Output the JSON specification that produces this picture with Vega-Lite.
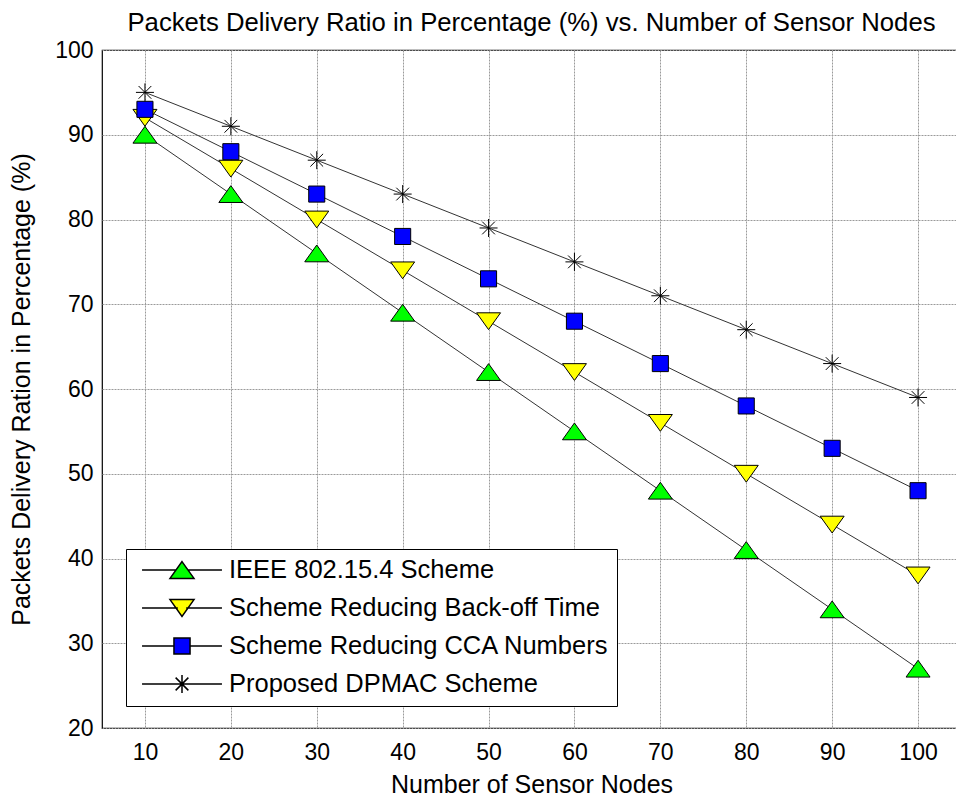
{
  "$schema": "https://vega.github.io/schema/vega-lite/v6.json",
  "autosize": "none",
  "width": 859,
  "height": 678,
  "padding": {"left": 102, "top": 50, "right": 0, "bottom": 70},
  "background": "white",
  "config": {
    "font": "Liberation Sans",
    "view": {"stroke": "black", "strokeWidth": 1.2},
    "axis": {"labelFont": "Liberation Sans", "titleFont": "Liberation Sans", "labelColor": "black", "titleColor": "black", "titleFontWeight": "normal", "domain": false, "ticks": false, "gridColor": "#9a9a9a", "gridDash": [2, 1], "gridWidth": 1}
  },
  "title": {"text": "Packets Delivery Ratio in Percentage (%) vs. Number of Sensor Nodes", "font": "Liberation Sans", "fontSize": 25.7, "fontWeight": "normal", "color": "black", "frame": "group", "anchor": "middle", "offset": 2},
  "data": {"values": [
    {"nodes": 10, "pdr": 90, "series": "IEEE 802.15.4 Scheme"},
    {"nodes": 20, "pdr": 83, "series": "IEEE 802.15.4 Scheme"},
    {"nodes": 30, "pdr": 76, "series": "IEEE 802.15.4 Scheme"},
    {"nodes": 40, "pdr": 69, "series": "IEEE 802.15.4 Scheme"},
    {"nodes": 50, "pdr": 62, "series": "IEEE 802.15.4 Scheme"},
    {"nodes": 60, "pdr": 55, "series": "IEEE 802.15.4 Scheme"},
    {"nodes": 70, "pdr": 48, "series": "IEEE 802.15.4 Scheme"},
    {"nodes": 80, "pdr": 41, "series": "IEEE 802.15.4 Scheme"},
    {"nodes": 90, "pdr": 34, "series": "IEEE 802.15.4 Scheme"},
    {"nodes": 100, "pdr": 27, "series": "IEEE 802.15.4 Scheme"},
    {"nodes": 10, "pdr": 92, "series": "Scheme Reducing Back-off Time"},
    {"nodes": 20, "pdr": 86, "series": "Scheme Reducing Back-off Time"},
    {"nodes": 30, "pdr": 80, "series": "Scheme Reducing Back-off Time"},
    {"nodes": 40, "pdr": 74, "series": "Scheme Reducing Back-off Time"},
    {"nodes": 50, "pdr": 68, "series": "Scheme Reducing Back-off Time"},
    {"nodes": 60, "pdr": 62, "series": "Scheme Reducing Back-off Time"},
    {"nodes": 70, "pdr": 56, "series": "Scheme Reducing Back-off Time"},
    {"nodes": 80, "pdr": 50, "series": "Scheme Reducing Back-off Time"},
    {"nodes": 90, "pdr": 44, "series": "Scheme Reducing Back-off Time"},
    {"nodes": 100, "pdr": 38, "series": "Scheme Reducing Back-off Time"},
    {"nodes": 10, "pdr": 93, "series": "Scheme Reducing CCA Numbers"},
    {"nodes": 20, "pdr": 88, "series": "Scheme Reducing CCA Numbers"},
    {"nodes": 30, "pdr": 83, "series": "Scheme Reducing CCA Numbers"},
    {"nodes": 40, "pdr": 78, "series": "Scheme Reducing CCA Numbers"},
    {"nodes": 50, "pdr": 73, "series": "Scheme Reducing CCA Numbers"},
    {"nodes": 60, "pdr": 68, "series": "Scheme Reducing CCA Numbers"},
    {"nodes": 70, "pdr": 63, "series": "Scheme Reducing CCA Numbers"},
    {"nodes": 80, "pdr": 58, "series": "Scheme Reducing CCA Numbers"},
    {"nodes": 90, "pdr": 53, "series": "Scheme Reducing CCA Numbers"},
    {"nodes": 100, "pdr": 48, "series": "Scheme Reducing CCA Numbers"},
    {"nodes": 10, "pdr": 95, "series": "Proposed DPMAC Scheme"},
    {"nodes": 20, "pdr": 91, "series": "Proposed DPMAC Scheme"},
    {"nodes": 30, "pdr": 87, "series": "Proposed DPMAC Scheme"},
    {"nodes": 40, "pdr": 83, "series": "Proposed DPMAC Scheme"},
    {"nodes": 50, "pdr": 79, "series": "Proposed DPMAC Scheme"},
    {"nodes": 60, "pdr": 75, "series": "Proposed DPMAC Scheme"},
    {"nodes": 70, "pdr": 71, "series": "Proposed DPMAC Scheme"},
    {"nodes": 80, "pdr": 67, "series": "Proposed DPMAC Scheme"},
    {"nodes": 90, "pdr": 63, "series": "Proposed DPMAC Scheme"},
    {"nodes": 100, "pdr": 59, "series": "Proposed DPMAC Scheme"}
  ]},
  "encoding": {
    "x": {"field": "nodes", "type": "quantitative", "scale": {"domain": [5, 105], "nice": false, "zero": false},
      "axis": {"values": [10, 20, 30, 40, 50, 60, 70, 80, 90, 100], "title": "Number of Sensor Nodes", "labelFontSize": 23, "titleFontSize": 25, "labelPadding": 13, "titlePadding": 8, "labelFlush": false}},
    "y": {"field": "pdr", "type": "quantitative", "scale": {"domain": [20, 100], "nice": false, "zero": false},
      "axis": {"values": [20, 30, 40, 50, 60, 70, 80, 90, 100], "title": "Packets Delivery Ration in Percentage (%)", "labelFontSize": 23, "titleFontSize": 25, "labelPadding": 9, "titlePadding": 20, "labelFlush": false}}
  },
  "resolve": {"scale": {"shape": "independent", "fill": "independent"}, "legend": {"shape": "independent", "fill": "independent"}},
  "layer": [
    {
      "mark": {"type": "line", "stroke": "#333333", "strokeWidth": 1},
      "encoding": {"detail": {"field": "series", "type": "nominal"}}
    },
    {
      "mark": {"type": "point", "filled": true, "stroke": "black", "strokeWidth": 1, "opacity": 1, "size": 576},
      "encoding": {
        "shape": {"field": "series", "type": "nominal", "legend": null,
          "scale": {"domain": ["IEEE 802.15.4 Scheme", "Scheme Reducing Back-off Time", "Scheme Reducing CCA Numbers", "Proposed DPMAC Scheme"],
            "range": ["M0,-0.7L1,0.7L-1,0.7Z", "M-1,-0.7L1,-0.7L0,0.7Z", "M-0.67,-0.67L0.67,-0.67L0.67,0.67L-0.67,0.67Z", "M-0.75,0L0.75,0M0,-0.75L0,0.75M-0.53,-0.53L0.53,0.53M-0.53,0.53L0.53,-0.53"]}},
        "fill": {"field": "series", "type": "nominal", "legend": null,
          "scale": {"domain": ["IEEE 802.15.4 Scheme", "Scheme Reducing Back-off Time", "Scheme Reducing CCA Numbers", "Proposed DPMAC Scheme"],
            "range": ["#00ff00", "#ffff00", "#0000ff", "transparent"]}}
      }
    },
    {
      "transform": [{"filter": "datum.nodes < 0"}],
      "mark": {"type": "point", "filled": true, "stroke": "black", "strokeWidth": 1, "opacity": 1, "size": 576},
      "encoding": {
        "shape": {"field": "series", "type": "nominal",
          "scale": {"domain": ["IEEE 802.15.4 Scheme", "Scheme Reducing Back-off Time", "Scheme Reducing CCA Numbers", "Proposed DPMAC Scheme"],
            "range": ["M0,-0.7L1,0.7L-1,0.7ZM-3.33,0L-0.5,0M0.5,0L3.33,0", "M-1,-0.7L1,-0.7L0,0.7ZM-3.33,0L-0.35,0M0.35,0L3.33,0", "M-0.67,-0.67L0.67,-0.67L0.67,0.67L-0.67,0.67ZM-3.33,0L-0.67,0M0.67,0L3.33,0", "M-0.75,0L0.75,0M0,-0.75L0,0.75M-0.53,-0.53L0.53,0.53M-0.53,0.53L0.53,-0.53M-3.33,0L-0.75,0M0.75,0L3.33,0"]},
          "legend": {
            "title": null, "orient": "none", "legendX": 24, "legendY": 499,
            "padding": 8, "fillColor": "white", "strokeColor": "black",
            "labelFontSize": 25.5, "labelFont": "Liberation Sans", "labelColor": "black", "labelLimit": 600,
            "symbolSize": 576, "symbolOffset": 35, "labelOffset": 34, "rowPadding": 11,
            "encode": {"symbols": {"stroke": {"value": "black"}, "strokeWidth": {"value": 1}}}
          }},
        "fill": {"field": "series", "type": "nominal",
          "scale": {"domain": ["IEEE 802.15.4 Scheme", "Scheme Reducing Back-off Time", "Scheme Reducing CCA Numbers", "Proposed DPMAC Scheme"],
            "range": ["#00ff00", "#ffff00", "#0000ff", "transparent"]},
          "legend": {
            "title": null, "orient": "none", "legendX": 24, "legendY": 499,
            "padding": 8, "fillColor": "white", "strokeColor": "black",
            "labelFontSize": 25.5, "labelFont": "Liberation Sans", "labelColor": "black", "labelLimit": 600,
            "symbolSize": 576, "symbolOffset": 35, "labelOffset": 34, "rowPadding": 11,
            "encode": {"symbols": {"stroke": {"value": "black"}, "strokeWidth": {"value": 1}}}
          }}
      }
    }
  ]
}
